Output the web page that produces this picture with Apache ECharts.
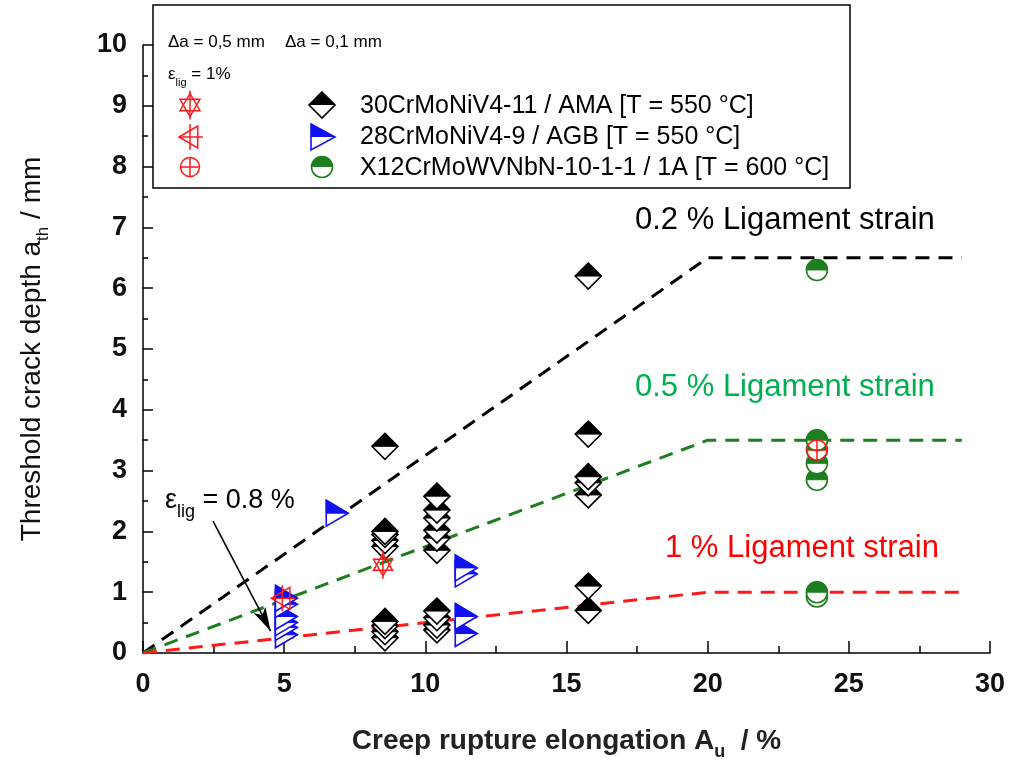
<!DOCTYPE html>
<html>
<head>
<meta charset="utf-8">
<script src="https://cdn.jsdelivr.net/npm/echarts@6/dist/echarts.min.js"></script>
<style>html,body{margin:0;padding:0;background:#fff}#chart{width:1010px;height:760px}</style>
</head>
<body>
<div id="chart"></div>
<script>
// ---------- data ----------
const xTicks = [0, 5, 10, 15, 20, 25, 30];
const yTicks = [0, 1, 2, 3, 4, 5, 6, 7, 8, 9, 10];

// 30CrMoNiV4-11 / AMA (half-filled diamonds), ascending so higher ones are drawn on top
const amaPoints = [
  [8.57, 0.25], [8.57, 0.35], [10.41, 0.38], [10.41, 0.46], [8.57, 0.45], [8.57, 0.52],
  [10.41, 0.58], [10.41, 0.69], [15.77, 0.70], [15.77, 1.10],
  [10.41, 1.69], [8.57, 1.75], [8.57, 1.85], [10.41, 1.89], [8.57, 1.95], [8.57, 2.00],
  [10.41, 2.02], [10.41, 2.22], [10.41, 2.35], [10.41, 2.58],
  [15.77, 2.60], [15.77, 2.80], [15.77, 2.90], [8.57, 3.40], [15.77, 3.60], [15.77, 6.20]
];
// 28CrMoNiV4-9 / AGB (half-filled right triangles)
const agbPoints = [
  [5.08, 0.30], [5.08, 0.42], [5.08, 0.50], [5.08, 0.60], [5.08, 0.80], [5.08, 0.90],
  [11.45, 0.32], [11.45, 0.60], [11.45, 1.30], [11.45, 1.40], [6.88, 2.30]
];
// X12CrMoWVNbN-10-1-1 / 1A (half-filled circles)
const x12Points = [
  [23.87, 0.93], [23.87, 1.00], [23.87, 2.85], [23.87, 3.12], [23.87, 3.34], [23.87, 3.50], [23.87, 6.30]
];
// eps_lig = 1 % (red open symbols)
const redStarPoints = [[8.50, 1.45]];
const redTriPoints = [[4.93, 0.90]];
const redCirclePoints = [[23.87, 3.34]];

// ligament strain curves
const strain02 = [[0, 0], [20.0, 6.5], [29.0, 6.5]];
const strain05 = [[0, 0], [20.0, 3.5], [29.0, 3.5]];
const strain1 = [[0, 0], [20.0, 1.0], [29.0, 1.0]];

// annotation arrow (eps_lig = 0.8 %)
const arrowFrom = [2.48, 2.17];
const arrowTo = [4.52, 0.36];

// ---------- rendering ----------
const FF = "'Liberation Sans', Arial, sans-serif";
const RED = '#ff1a1a';
const BLUE = '#1010f0';
const GREEN = '#1e7d1e';

function diamondItem(params, api) {
  const c = api.coord([api.value(0), api.value(1)]);
  const x = c[0], y = c[1], w = 26, h = 26;
  return { type: 'group', children: [
    { type: 'polygon', shape: { points: [[x, y - h / 2], [x + w / 2, y], [x, y + h / 2], [x - w / 2, y]] },
      style: { fill: '#fff', stroke: '#000', lineWidth: 1.6 } },
    { type: 'polygon', shape: { points: [[x, y - h / 2], [x + w / 2, y], [x - w / 2, y]] },
      style: { fill: '#000', stroke: '#000', lineWidth: 1 } }
  ] };
}
function triItem(params, api) {
  const c = api.coord([api.value(0), api.value(1)]);
  const x = c[0], y = c[1], w = 22, h = 26;
  return { type: 'group', children: [
    { type: 'polygon', shape: { points: [[x - w / 2, y - h / 2], [x + w / 2, y], [x - w / 2, y + h / 2]] },
      style: { fill: '#fff', stroke: BLUE, lineWidth: 1.6 } },
    { type: 'polygon', shape: { points: [[x - w / 2, y - h / 2], [x + w / 2, y], [x - w / 2, y]] },
      style: { fill: BLUE, stroke: BLUE, lineWidth: 1 } }
  ] };
}
function circItem(params, api) {
  const c = api.coord([api.value(0), api.value(1)]);
  const x = c[0], y = c[1], r = 10.5;
  return { type: 'group', children: [
    { type: 'circle', shape: { cx: x, cy: y, r: r }, style: { fill: '#fff', stroke: GREEN, lineWidth: 1.6 } },
    { type: 'sector', shape: { cx: x, cy: y, r: r, r0: 0, startAngle: Math.PI, endAngle: 2 * Math.PI, clockwise: true },
      style: { fill: GREEN, stroke: GREEN, lineWidth: 1 } }
  ] };
}
function starShapes(x, y, s, z) {
  const r = s / 2, k = 0.866 * r;
  return [
    { type: 'polygon', z: z, shape: { points: [[x, y - r], [x + k, y + r / 2], [x - k, y + r / 2]] }, style: { fill: 'none', stroke: RED, lineWidth: 1.5 } },
    { type: 'polygon', z: z, shape: { points: [[x, y + r], [x + k, y - r / 2], [x - k, y - r / 2]] }, style: { fill: 'none', stroke: RED, lineWidth: 1.5 } },
    { type: 'line', z: z, shape: { x1: x, y1: y - r - 3, x2: x, y2: y + r + 3 }, style: { stroke: RED, lineWidth: 1.5 } }
  ];
}
function triCrossShapes(x, y, s, z) {
  const r = s / 2;
  return [
    { type: 'polygon', z: z, shape: { points: [[x + r * 0.7, y - r], [x - r, y], [x + r * 0.7, y + r]] }, style: { fill: 'none', stroke: RED, lineWidth: 1.5 } },
    { type: 'line', z: z, shape: { x1: x, y1: y - r - 2, x2: x, y2: y + r + 2 }, style: { stroke: RED, lineWidth: 1.5 } },
    { type: 'line', z: z, shape: { x1: x - r, y1: y, x2: x + r + 2, y2: y }, style: { stroke: RED, lineWidth: 1.5 } }
  ];
}
function circCrossShapes(x, y, s, z) {
  const r = s / 2;
  return [
    { type: 'circle', z: z, shape: { cx: x, cy: y, r: r }, style: { fill: 'none', stroke: RED, lineWidth: 1.5 } },
    { type: 'line', z: z, shape: { x1: x, y1: y - r, x2: x, y2: y + r }, style: { stroke: RED, lineWidth: 1.5 } },
    { type: 'line', z: z, shape: { x1: x - r, y1: y, x2: x + r, y2: y }, style: { stroke: RED, lineWidth: 1.5 } }
  ];
}
function redItem(fn, size) {
  return function (params, api) {
    const c = api.coord([api.value(0), api.value(1)]);
    return { type: 'group', children: fn(c[0], c[1], size) };
  };
}
function customSeries(name, data, renderItem) {
  return { name: name, type: 'custom', data: data, renderItem: renderItem, encode: { x: 0, y: 1 }, clip: false, z: 5 };
}
function dashLine(data, color) {
  return { type: 'line', data: data, symbol: 'none', silent: true, z: 3,
    lineStyle: { color: color, width: 3, type: [14, 9] } };
}

const chart = echarts.init(document.getElementById('chart'));

// legend graphics (pixel layout)
const LZ = 12;
const legendGraphic = [
  { type: 'rect', shape: { x: 153, y: 5, width: 697, height: 183 }, style: { fill: '#fff', stroke: '#000', lineWidth: 1.5 }, z: 10 },
  { type: 'text', x: 168, y: 42, style: { text: 'Δa = 0,5 mm', font: '17px ' + FF, fill: '#000', verticalAlign: 'middle' }, z: LZ },
  { type: 'text', x: 285, y: 42, style: { text: 'Δa = 0,1 mm', font: '17px ' + FF, fill: '#000', verticalAlign: 'middle' }, z: LZ },
  { type: 'text', x: 168, y: 72, style: { text: '{e|ε}{s|lig}{e| = 1%}', fill: '#000', verticalAlign: 'middle',
      rich: { e: { fontSize: 17, fontFamily: FF, lineHeight: 22, verticalAlign: 'bottom' }, s: { fontSize: 11, fontFamily: FF, lineHeight: 14, verticalAlign: 'bottom', padding: [0, 0, -5, 0] } } }, z: LZ }
].concat(
  starShapes(190, 105, 23, LZ),
  triCrossShapes(190, 137, 22, LZ),
  circCrossShapes(190, 167, 19, LZ),
  [
    { type: 'polygon', z: LZ, shape: { points: [[322, 92], [335, 105], [322, 118], [309, 105]] }, style: { fill: '#fff', stroke: '#000', lineWidth: 1.6 } },
    { type: 'polygon', z: LZ, shape: { points: [[322, 92], [335, 105], [309, 105]] }, style: { fill: '#000' } },
    { type: 'polygon', z: LZ, shape: { points: [[311, 124], [335, 137], [311, 150]] }, style: { fill: '#fff', stroke: BLUE, lineWidth: 1.6 } },
    { type: 'polygon', z: LZ, shape: { points: [[311, 124], [335, 137], [311, 137]] }, style: { fill: BLUE } },
    { type: 'circle', z: LZ, shape: { cx: 322, cy: 167, r: 10.5 }, style: { fill: '#fff', stroke: GREEN, lineWidth: 1.6 } },
    { type: 'sector', z: LZ, shape: { cx: 322, cy: 167, r: 10.5, r0: 0, startAngle: Math.PI, endAngle: 2 * Math.PI }, style: { fill: GREEN } },
    { type: 'text', z: LZ, x: 360, y: 106, style: { text: '30CrMoNiV4-11 / AMA [T = 550 °C]', font: '25px ' + FF, fill: '#000', verticalAlign: 'middle' } },
    { type: 'text', z: LZ, x: 360, y: 137, style: { text: '28CrMoNiV4-9 / AGB [T = 550 °C]', font: '25px ' + FF, fill: '#000', verticalAlign: 'middle' } },
    { type: 'text', z: LZ, x: 360, y: 168, style: { text: 'X12CrMoWVNbN-10-1-1 / 1A [T = 600 °C]', font: '25px ' + FF, fill: '#000', verticalAlign: 'middle' } },
    // curve labels
    { type: 'text', z: 6, x: 635, y: 220, style: { text: '0.2 % Ligament strain', font: '31px ' + FF, fill: '#000', verticalAlign: 'middle' } },
    { type: 'text', z: 6, x: 635, y: 387, style: { text: '0.5 % Ligament strain', font: '31px ' + FF, fill: '#00b050', verticalAlign: 'middle' } },
    { type: 'text', z: 6, x: 665, y: 548, style: { text: '1 % Ligament strain', font: '31px ' + FF, fill: '#ff0000', verticalAlign: 'middle' } },
    { type: 'text', z: 6, x: 165, y: 498, style: { text: '{e|ε}{s|lig}{e| = 0.8 %}', fill: '#000', verticalAlign: 'middle',
        rich: { e: { fontSize: 27, fontFamily: FF, lineHeight: 32, verticalAlign: 'bottom' }, s: { fontSize: 18, fontFamily: FF, lineHeight: 20, verticalAlign: 'bottom', padding: [0, 0, -7, 0] } } } }
  ]
);

const option = {
  backgroundColor: '#fff',
  animation: false,
  grid: { left: 143, right: 20, top: 45, bottom: 107, outerBoundsMode: 'none', containLabel: false },
  xAxis: {
    type: 'value', min: 0, max: 30, interval: 5,
    name: '{m|Creep rupture elongation A}{s|u}{m|  / %}',
    nameLocation: 'middle', nameGap: 68,
    nameTextStyle: { rich: {
      m: { fontSize: 28, fontWeight: 'bold', fontFamily: FF, color: '#222', lineHeight: 34, verticalAlign: 'bottom' },
      s: { fontSize: 18, fontWeight: 'bold', fontFamily: FF, color: '#222', lineHeight: 22, verticalAlign: 'bottom', padding: [0, 0, -6, 0] } } },
    axisLine: { show: true, lineStyle: { color: '#000', width: 1.5 } },
    axisTick: { show: true, inside: true, length: 12, lineStyle: { color: '#000', width: 1.5 } },
    minorTick: { show: true, splitNumber: 2, length: 7, lineStyle: { color: '#000', width: 1.5 } },
    axisLabel: { fontSize: 27, fontWeight: 'bold', fontFamily: FF, color: '#111', margin: 18,
      formatter: function (v) { return xTicks.indexOf(v) >= 0 ? String(v) : ''; } },
    splitLine: { show: false }
  },
  yAxis: {
    type: 'value', min: 0, max: 10, interval: 1,
    name: '{m|Threshold crack depth a}{s|th}{m| / mm}',
    nameLocation: 'middle', nameGap: 97,
    nameTextStyle: { rich: {
      m: { fontSize: 28, fontFamily: FF, color: '#111', lineHeight: 34, verticalAlign: 'bottom' },
      s: { fontSize: 17, fontFamily: FF, color: '#111', lineHeight: 22, verticalAlign: 'bottom', padding: [0, 0, -6, 0] } } },
    axisLine: { show: true, lineStyle: { color: '#000', width: 1.5 } },
    axisTick: { show: true, inside: true, length: 10, lineStyle: { color: '#000', width: 1.5 } },
    minorTick: { show: true, splitNumber: 2, length: 5, lineStyle: { color: '#000', width: 1.5 } },
    axisLabel: { fontSize: 27, fontWeight: 'bold', fontFamily: FF, color: '#111', margin: 16,
      formatter: function (v) { return yTicks.indexOf(v) >= 0 ? String(v) : ''; } },
    splitLine: { show: false }
  },
  series: [
    dashLine(strain02, '#000'),
    dashLine(strain05, GREEN),
    Object.assign(dashLine(strain1, RED), {
      markLine: { silent: true, symbol: ['none', 'arrow'], symbolSize: [10, 24], animation: false,
        lineStyle: { color: '#000', width: 1.6, type: 'solid' }, label: { show: false },
        data: [[{ coord: arrowFrom }, { coord: arrowTo }]] }
    }),
    customSeries('AMA', amaPoints, diamondItem),
    customSeries('AGB', agbPoints, triItem),
    customSeries('1A', x12Points, circItem),
    customSeries('star', redStarPoints, redItem(starShapes, 22)),
    customSeries('tri', redTriPoints, redItem(triCrossShapes, 22)),
    customSeries('circ', redCirclePoints, redItem(circCrossShapes, 20))
  ],
  graphic: legendGraphic
};
chart.setOption(option);
</script>
</body>
</html>
